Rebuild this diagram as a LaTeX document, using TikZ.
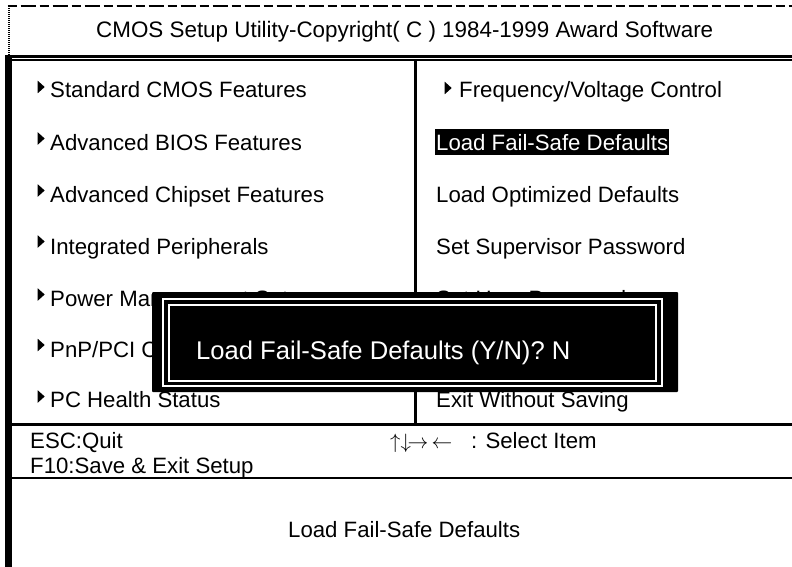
\documentclass[tikz,border=0pt]{standalone}
\usepackage{fontspec}
\setmainfont{Liberation Sans}
\usetikzlibrary{shapes.geometric}
\tikzset{
  label22/.style={anchor=base west, inner sep=0pt, font=\fontsize{22.2}{26}\selectfont},
  labelinv/.style={label22, text=white},
  marker/.style={isosceles triangle, isosceles triangle stretches, fill=black, draw=none, inner sep=0pt, minimum height=7pt, minimum width=12.5pt},
  rule/.style={line width=3pt, black},
  thinrule/.style={line width=2pt, black},
}
\begin{document}
\begin{tikzpicture}[x=1pt,y=-1pt]
      \useasboundingbox (0,0) rectangle (792,567);
      % frame
      \draw[line width=2pt, dash pattern=on 9pt off 4pt on 15pt off 4pt] (7.5,6.5) -- (792,6.5);
      \draw[line width=2pt, dash pattern=on 1pt off 1pt] (9,6) -- (9,55);
      \draw[line width=2.5pt] (5,56.3) -- (792,56.3);
      \draw[thinrule] (5,60) -- (792,60);
      \fill (5,56) rectangle (12,567);
      \draw[rule] (415,60) -- (415,424);
      \draw[rule] (12,424) -- (792,424);
      \draw[thinrule] (12,478) -- (792,478);

      \node[label22, font=\fontsize{22.4}{26}\selectfont] (title) at (96,38) {CMOS Setup Utility-Copyright( C ) 1984-1999 Award Software};

      % left column
      \node[marker] (m1) at (40.5,87) {};
      \node[label22] (std) at (50,98) {Standard CMOS Features};
      \node[marker] (m2) at (40.5,138.5) {};
      \node[label22] (bios) at (50,150) {Advanced BIOS Features};
      \node[marker] (m3) at (40.5,190.5) {};
      \node[label22] (chipset) at (50,202) {Advanced Chipset Features};
      \node[marker] (m4) at (40.5,241.5) {};
      \node[label22] (periph) at (50,254) {Integrated Peripherals};
      \node[marker] (m5) at (40.5,294.5) {};
      \node[label22] (power) at (50,306) {Power Management Setup};
      \node[marker] (m6) at (40.5,345) {};
      \node[label22] (pnp) at (50,357) {PnP/PCI C};
      \node[marker] (m7) at (40.5,396.5) {};
      \node[label22] (health) at (50,407) {PC Health Status};

      % right column
      \node[marker] (m8) at (447.5,88) {};
      \node[label22] (freq) at (459,98) {Frequency/Voltage Control};
      \fill (435,129) rectangle (669,155);
      \node[labelinv] (failsafe) at (436,150) {Load Fail-Safe Defaults};
      \node[label22] (optimized) at (436,202) {Load Optimized Defaults};
      \node[label22] (superpw) at (436,254) {Set Supervisor Password};
      \node[label22] (userpw) at (436,306) {Set User Password};
      \node[label22] (exit) at (436,407) {Exit Without Saving};

      % footer
      \node[label22] (esc) at (30,448) {ESC:Quit};
      \node[label22] (f10) at (30,473) {F10:Save \& Exit Setup};
      \node[label22] (arrows) at (390,448) {$\uparrow\downarrow\!\rightarrow\,\leftarrow$};
      \node[label22] (select) at (471,448) {: Select Item};
      \node[label22] (help) at (288,537) {Load Fail-Safe Defaults};

      % dialog
      \fill[rounded corners=1pt] (152,292) rectangle (678,392);
      \draw[white, line width=2pt] (163,299) rectangle (662,386);
      \draw[white, line width=2pt] (169,305) rectangle (656,381);
      \node[labelinv, font=\fontsize{25.6}{30}\selectfont] (prompt) at (196,359) {Load Fail-Safe Defaults (Y/N)? N};
    \end{tikzpicture}
\end{document}
